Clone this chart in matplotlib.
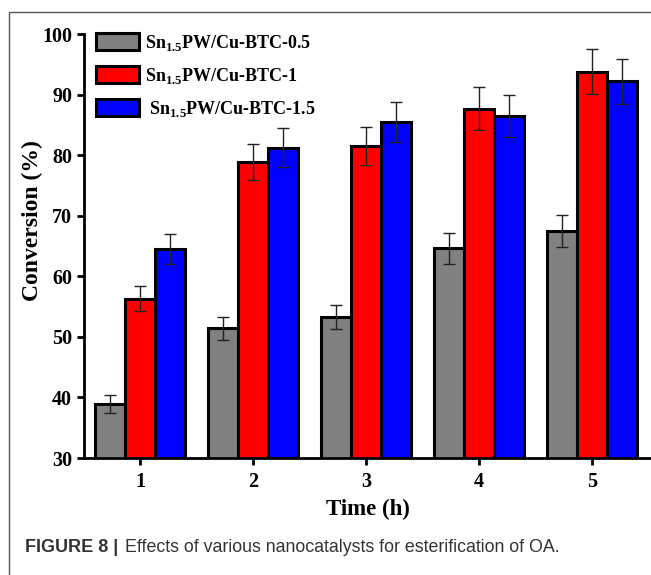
import matplotlib
matplotlib.use("Agg")
import matplotlib.pyplot as plt
import numpy as np
from matplotlib.patches import Rectangle

plt.rcParams['font.family'] = 'Liberation Serif'
plt.rcParams['font.weight'] = 'bold'
plt.rcParams['mathtext.fontset'] = 'custom'
plt.rcParams['mathtext.rm'] = 'Liberation Serif:bold'
plt.rcParams['mathtext.bf'] = 'Liberation Serif:bold'

# data
times = [1, 2, 3, 4, 5]
conv_05 = [38.9, 51.4, 53.3, 64.6, 67.5]
err_05 = [1.5, 1.9, 2.0, 2.5, 2.6]
conv_1 = [56.3, 78.9, 81.5, 87.7, 93.8]
err_1 = [2.1, 3.0, 3.2, 3.5, 3.7]
conv_15 = [64.5, 81.2, 85.5, 86.4, 92.2]
err_15 = [2.5, 3.2, 3.3, 3.45, 3.7]
labels = [r"Sn$_{\mathbf{1.5}}$PW/Cu-BTC-0.5",
          r"Sn$_{\mathbf{1.5}}$PW/Cu-BTC-1",
          r" Sn$_{\mathbf{1.5}}$PW/Cu-BTC-1.5"]
colors = ['#808080', '#ff0000', '#0000ff']

W, H = 651, 575
fig = plt.figure(figsize=(W / 100, H / 100), dpi=100)
ax = fig.add_axes([84 / W, 1 - 458 / H, 1 - 84 / W, (458 - 34) / H])

x = np.array(times)
w = 0.265
ekw = dict(elinewidth=1.0, capsize=4, capthick=1.0, ecolor='#222222')
series = [(conv_05, err_05), (conv_1, err_1), (conv_15, err_15)]
for i, (vals, errs) in enumerate(series):
    ax.bar(x + (i - 1) * w, vals, w, yerr=errs, color=colors[i],
           edgecolor='black', linewidth=2.2, label=labels[i],
           error_kw=ekw, zorder=2)

ax.set_xlim(0.504, 1 + (W - 140) / 113)
ax.set_ylim(30, 100)
ax.set_xticks(times)
ax.set_yticks(np.arange(30, 101, 10))
for s in ['top', 'right']:
    ax.spines[s].set_visible(False)
for s in ['left', 'bottom']:
    ax.spines[s].set_linewidth(2.0)
ax.tick_params(axis='both', direction='out', length=5, width=2,
               labelsize=14.5)
ax.tick_params(axis='y', pad=3.5)
ax.tick_params(axis='x', pad=5)

ax.set_xlabel("Time (h)", fontsize=16.5, fontweight='bold', labelpad=5)
fig.text(32 / W, 1 - 221 / H, "Conversion (%)", rotation=90,
         ha='center', va='center', fontsize=17, fontweight='bold')

ax.legend(loc='upper left', bbox_to_anchor=(96 / W, 1 - 33 / H),
          bbox_transform=fig.transFigure, frameon=False, fontsize=13,
          handlelength=2.4, handleheight=1.05, handletextpad=0.3,
          labelspacing=0.72, borderpad=0, borderaxespad=0)

# outer frame and caption
fig.patches.append(Rectangle((9 / W, -0.1), 1.2, 1 - 12 / H + 0.1,
                             transform=fig.transFigure, fill=False,
                             edgecolor='#555555', linewidth=1.0))
fig.text(25 / W, 1 - 548 / H, "FIGURE 8 |", family='Liberation Sans',
         fontweight='bold', fontsize=13, color='#333333', va='center')
fig.text(125 / W, 1 - 548 / H,
         "Effects of various nanocatalysts for esterification of OA.",
         family='Liberation Sans', fontweight='normal', fontsize=12.8,
         color='#333333', va='center')

fig.savefig("out.png", dpi=100)
